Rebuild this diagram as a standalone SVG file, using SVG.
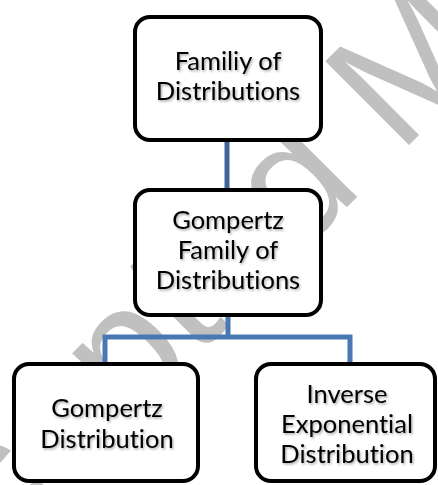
<svg xmlns="http://www.w3.org/2000/svg" width="438" height="485" viewBox="0 0 438 485">
<defs>
<filter id="ts" x="-10%" y="-30%" width="120%" height="160%">
<feDropShadow dx="1.2" dy="1.5" stdDeviation="0.9" flood-color="#000" flood-opacity="0.35"/>
</filter>
<style>
.box{fill:#fff;stroke:#000;stroke-width:4}
.lbl{font-family:Lato,"Open Sans",sans-serif;font-size:25.5px;fill:#000;text-anchor:middle;font-variant-ligatures:none;filter:url(#ts)}
.wm{font-family:"Liberation Sans",Arial,sans-serif;font-size:172px;fill:#c0c0c0}
.c1{stroke:#3d6595;stroke-width:5;fill:none}
.c2{stroke:#4a78b2;stroke-width:5;fill:none}
</style>
</defs>
<rect width="438" height="485" fill="#fff"/>
<g id="watermark">
<text class="wm" transform="translate(-142,696) rotate(-45)">Accepted Manuscript</text>
</g>
<g id="connectors">
<line class="c1" x1="227" y1="140" x2="227" y2="190"/>
<path class="c2" d="M228 315 V337 M105 364 V337 H350 V364"/>
</g>
<g id="n1">
<rect class="box" x="135" y="17" width="186" height="123" rx="15"/>
<text class="lbl" x="228" y="70">Familiy of</text>
<text class="lbl" x="228" y="100">Distributions</text>
</g>
<g id="n2">
<rect class="box" x="135" y="190" width="186" height="125" rx="15"/>
<text class="lbl" x="228" y="229">Gompertz</text>
<text class="lbl" x="228" y="259">Family of</text>
<text class="lbl" x="228" y="289">Distributions</text>
</g>
<g id="n3">
<rect class="box" x="14" y="364" width="184" height="117" rx="15"/>
<text class="lbl" x="107" y="417">Gompertz</text>
<text class="lbl" x="107" y="448">Distribution</text>
</g>
<g id="n4">
<rect class="box" x="256" y="364" width="179" height="117" rx="15"/>
<text class="lbl" x="347" y="403">Inverse</text>
<text class="lbl" x="347" y="433">Exponential</text>
<text class="lbl" x="347" y="463">Distribution</text>
</g>
</svg>
